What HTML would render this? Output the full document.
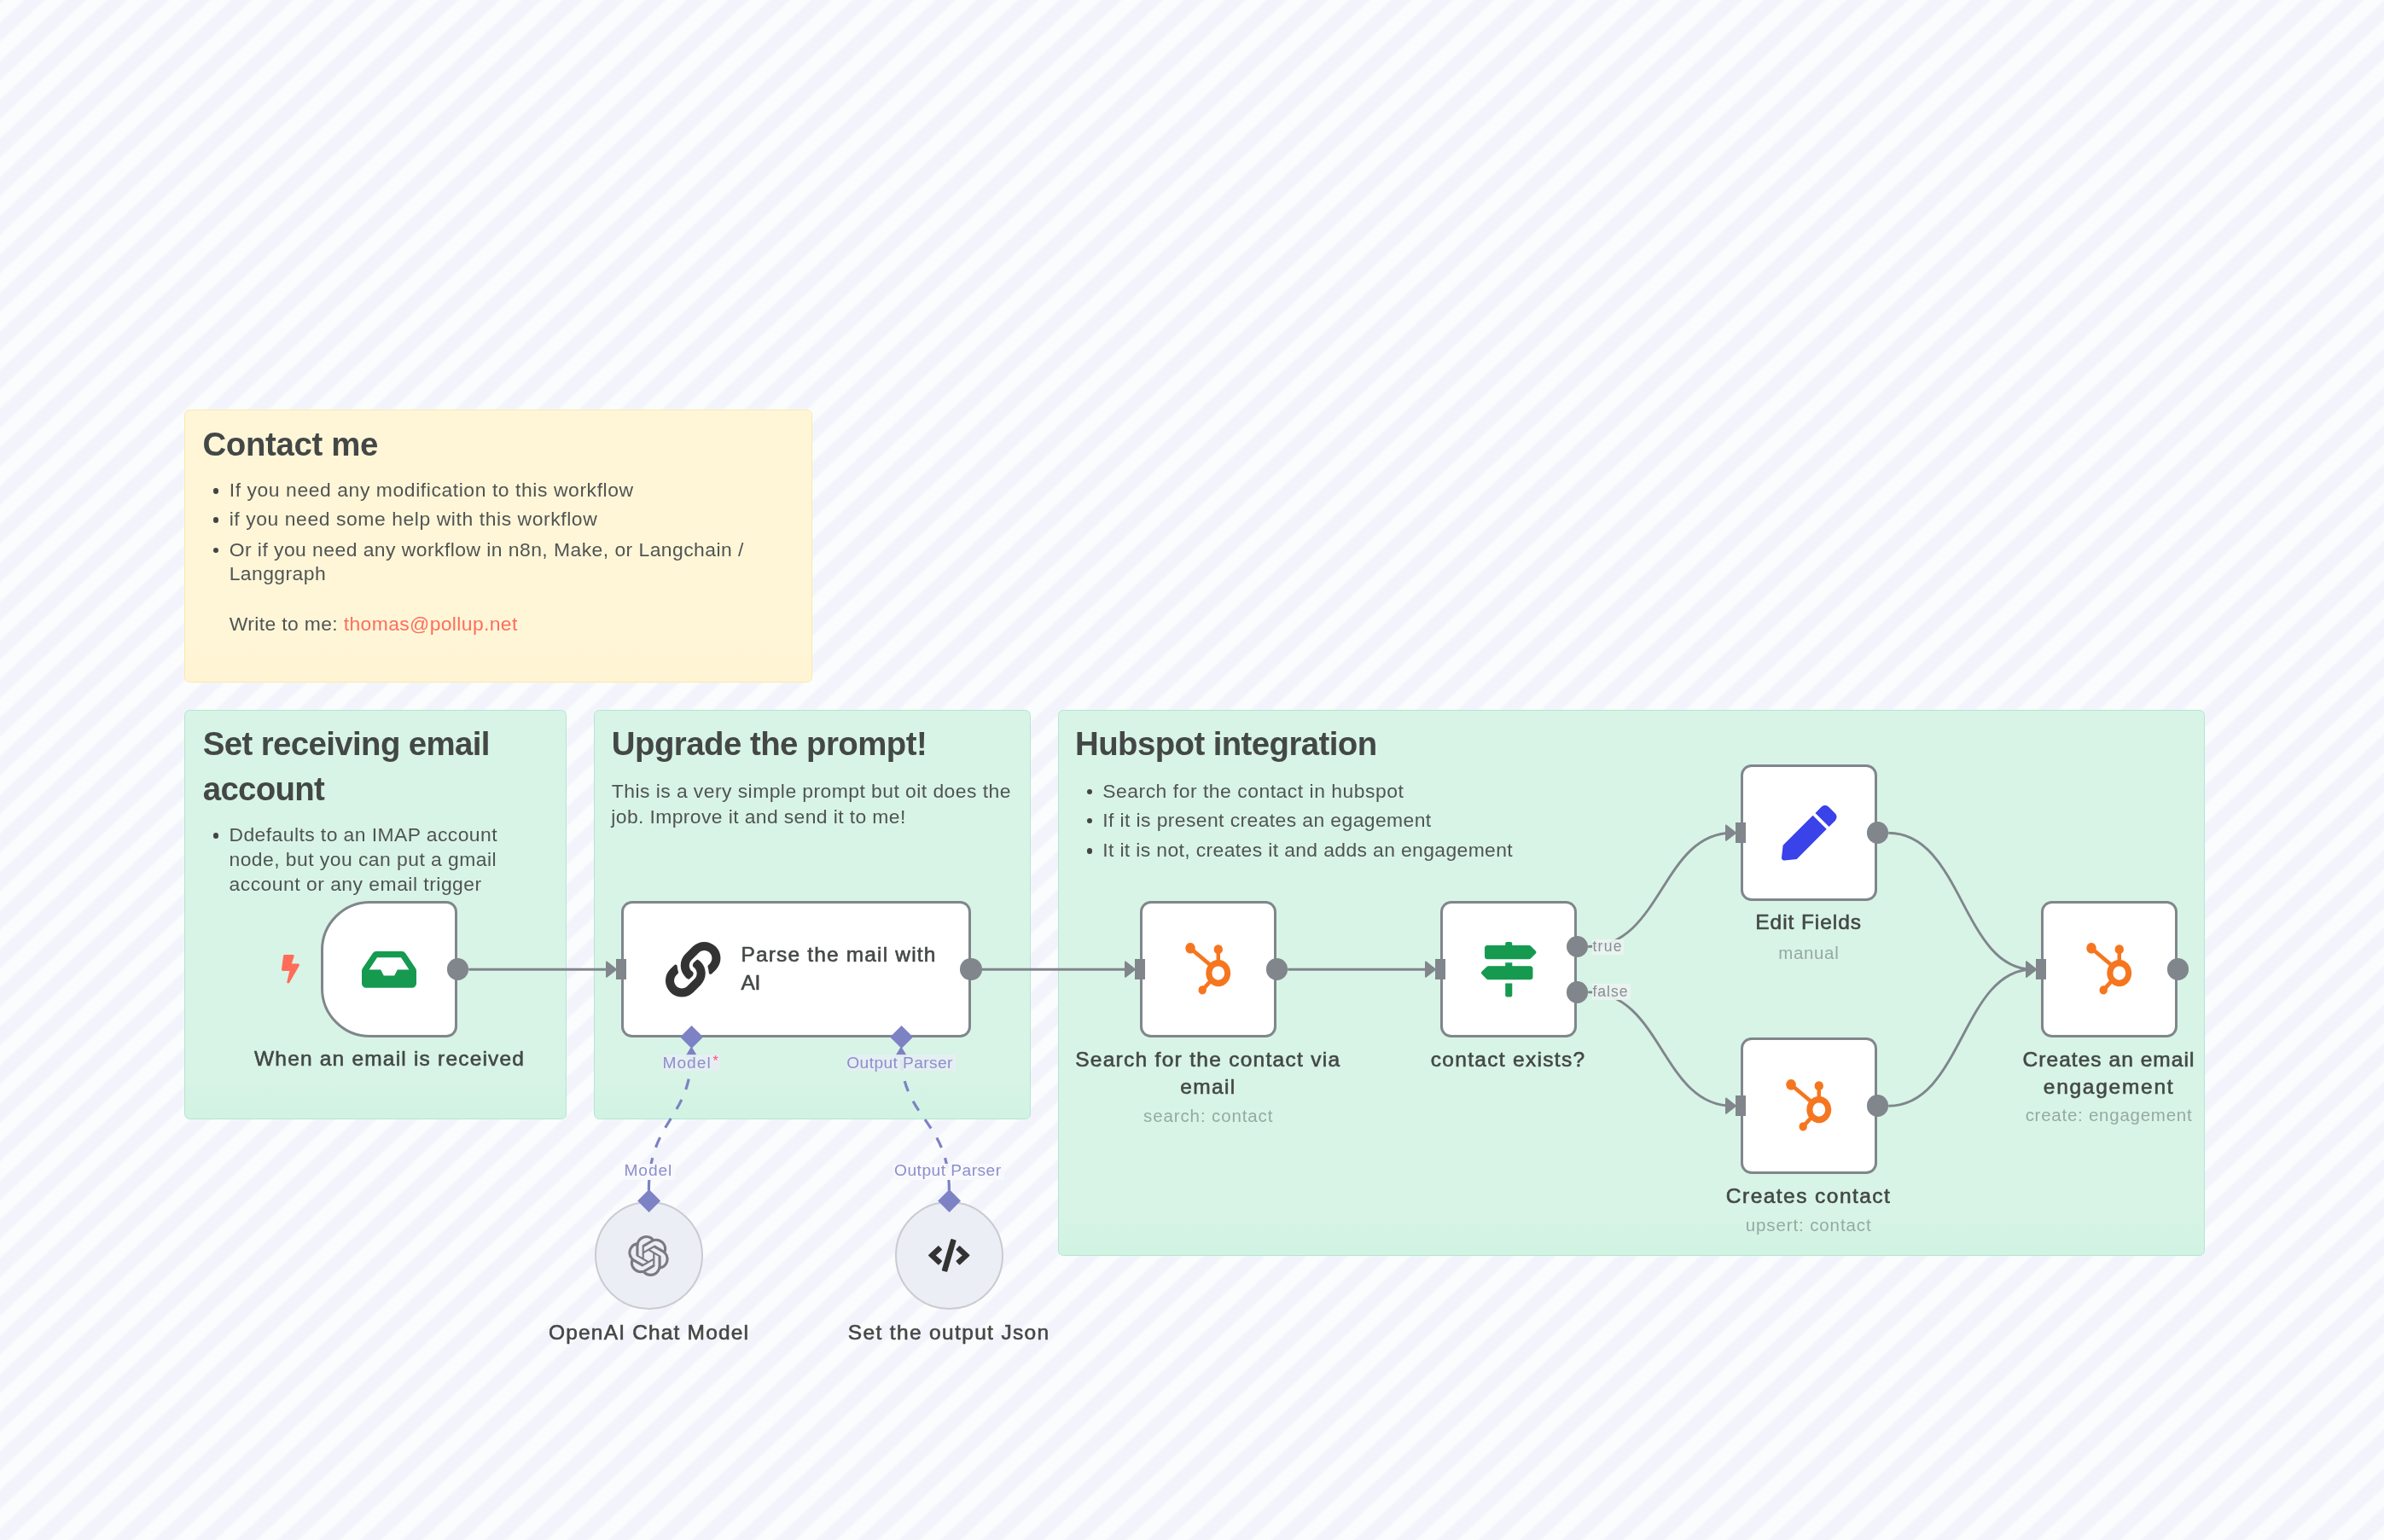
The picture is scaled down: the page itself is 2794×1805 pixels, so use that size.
<!DOCTYPE html>
<html><head><meta charset="utf-8"><title>workflow</title><style>
html,body{margin:0;padding:0}
body{width:2794px;height:1805px;overflow:hidden;position:relative;font-family:"Liberation Sans",sans-serif;background:#f8f9fd}
#c{position:absolute;left:0;top:0;width:2794px;height:1805px;overflow:hidden;filter:blur(.55px);
background-color:#fbfcfe;
background-image:repeating-linear-gradient(137deg,#f3f4fb .7px,#fbfcfe 4.7px,#fbfcfe 17.3px,#f3f4fb 21.3px,#f3f4fb 33.8px);}
.st{position:absolute;box-sizing:border-box;border:1.6px solid;border-radius:6.4px;z-index:1}
.st.y{background:linear-gradient(180deg,rgba(255,241,200,0) 0,rgba(255,241,200,0) calc(100% - 50px),rgba(255,242,204,.4) 100%),#fff6d8;border-color:#fae8b0}
.st.g{background:linear-gradient(180deg,rgba(200,242,222,0) 0,rgba(200,242,222,0) calc(100% - 50px),rgba(200,242,222,.45) 100%),#d8f4e6;border-color:#b4e6d0}
.edges{position:absolute;left:0;top:0;z-index:2}
.nd{position:absolute;box-sizing:border-box;background:#fff;border:3.2px solid #80868c;border-radius:12.8px;z-index:3}
.nd.trig{border-radius:57.6px 12.8px 12.8px 57.6px}
.hin{position:absolute;margin-top:.6px;margin-left:-.5px;width:12.8px;height:24.4px;background:#80868c;z-index:4}
.hout{position:absolute;width:25.6px;height:25.6px;border-radius:50%;background:#80868c;z-index:4}
.dm{position:absolute;width:19.2px;height:19.2px;background:#7d82c4;transform:rotate(45deg);z-index:6}
.cn{position:absolute;box-sizing:border-box;width:127px;height:127px;border-radius:50%;background:#eceef5;border:2px solid #c9cbd1;z-index:3}
.ic{position:absolute;z-index:5;overflow:visible}
.t{position:absolute;white-space:nowrap}
.bl{position:absolute;margin:.4px;width:6.4px;height:6.4px;border-radius:50%;background:#444;z-index:5}
.lb{position:absolute;background:rgba(233,243,241,.93);z-index:7}
.lb2{position:absolute;background:rgba(229,238,242,.93);z-index:7}
.lb3{position:absolute;background:rgba(248,249,253,.92);z-index:7}
.ast{position:absolute;width:7px;height:7px;border-radius:50%;background:#ff4d6a;z-index:8}
</style></head><body><div id="c">
<div class="st y" style="left:216.4px;top:480.2px;width:736.0px;height:320.0px"></div>
<div class="st g" style="left:216.4px;top:832.2px;width:448.0px;height:480.0px"></div>
<div class="st g" style="left:696.4px;top:832.2px;width:512.0px;height:480.0px"></div>
<div class="st g" style="left:1240.4px;top:832.2px;width:1344.0px;height:640.0px"></div>
<svg class="edges" width="2794" height="1805" viewBox="0 0 2794 1805"><path d="M549.2,1136.2 L718.0,1136.2" fill="none" stroke="#80868c" stroke-width="2.9"/>
<path d="M711.0,1127.6 L722.0,1136.2 L711.0,1144.8 Z" fill="#80868c" stroke="#80868c" stroke-width="2" stroke-linejoin="round"/>
<path d="M1150.8,1136.2 L1326.0,1136.2" fill="none" stroke="#80868c" stroke-width="2.9"/>
<path d="M1319.0,1127.6 L1330.0,1136.2 L1319.0,1144.8 Z" fill="#80868c" stroke="#80868c" stroke-width="2" stroke-linejoin="round"/>
<path d="M1509.2,1136.2 L1678.0,1136.2" fill="none" stroke="#80868c" stroke-width="2.9"/>
<path d="M1671.0,1127.6 L1682.0,1136.2 L1671.0,1144.8 Z" fill="#80868c" stroke="#80868c" stroke-width="2" stroke-linejoin="round"/>
<path d="M1861.2,1109.5 C1947.6,1109.5 1947.6,976.2 2030.0,976.2" fill="none" stroke="#80868c" stroke-width="2.9"/>
<path d="M2023.0,967.6 L2034.0,976.2 L2023.0,984.8 Z" fill="#80868c" stroke="#80868c" stroke-width="2" stroke-linejoin="round"/>
<path d="M1861.2,1162.9 C1947.6,1162.9 1947.6,1296.2 2030.0,1296.2" fill="none" stroke="#80868c" stroke-width="2.9"/>
<path d="M2023.0,1287.6 L2034.0,1296.2 L2023.0,1304.8 Z" fill="#80868c" stroke="#80868c" stroke-width="2" stroke-linejoin="round"/>
<path d="M2213.2,976.2 C2299.6,976.2 2299.6,1136.2 2382.0,1136.2" fill="none" stroke="#80868c" stroke-width="2.9"/>
<path d="M2375.0,1127.6 L2386.0,1136.2 L2375.0,1144.8 Z" fill="#80868c" stroke="#80868c" stroke-width="2" stroke-linejoin="round"/>
<path d="M2213.2,1296.2 C2299.6,1296.2 2299.6,1136.2 2382.0,1136.2" fill="none" stroke="#80868c" stroke-width="2.9"/>
<path d="M2375.0,1127.6 L2386.0,1136.2 L2375.0,1144.8 Z" fill="#80868c" stroke="#80868c" stroke-width="2" stroke-linejoin="round"/>
<path d="M760.4,1395.2 C760.4,1311.7 810.3,1311.7 810.3,1234.2" fill="none" stroke="#7d82c4" stroke-width="3.2" stroke-dasharray="12.8 12.8"/>
<path d="M804.8,1237.2 L810.3,1228.2 L815.8,1237.2 Z" fill="#7d82c4" stroke="#7d82c4" stroke-width="2" stroke-linejoin="round"/>
<path d="M1112.4,1395.2 C1112.4,1311.7 1056.1,1311.7 1056.1,1234.2" fill="none" stroke="#7d82c4" stroke-width="3.2" stroke-dasharray="12.8 12.8"/>
<path d="M1050.6,1237.2 L1056.1,1228.2 L1061.6,1237.2 Z" fill="#7d82c4" stroke="#7d82c4" stroke-width="2" stroke-linejoin="round"/></svg>
<div class="nd trig" style="left:376.4px;top:1056.2px;width:160.0px;height:160px"></div>
<div class="hout" style="left:523.6px;top:1123.4px"></div>
<svg class="ic" viewBox="0 0 576 512" style="left:424.4px;top:1107.8px;width:64.0px;height:56.9px" preserveAspectRatio="none"><path d="M567.938 243.908L462.25 85.374A48.003 48.003 0 0 0 422.311 64H153.689a48 48 0 0 0-39.938 21.374L8.062 243.908A47.994 47.994 0 0 0 0 270.533V400c0 26.51 21.49 48 48 48h480c26.51 0 48-21.49 48-48V270.533a47.994 47.994 0 0 0-8.062-26.625zM162.252 128h251.497l85.333 128H376l-32 64H232l-32-64H76.918l85.334-128z" fill="#159a50" opacity="1"/></svg>
<svg class="ic" viewBox="0 0 320 512" style="left:329.5px;top:1118.8px;width:21.0px;height:33.6px" preserveAspectRatio="none"><path d="M296 160H180.6l42.6-129.8C227.2 15 215.7 0 200 0H56C44 0 33.8 8.9 32.2 20.8l-32 240C-1.7 275.2 9.5 288 24 288h118.7L96.6 482.5c-3.6 15.2 8 29.500 23.3 29.500 8.4 0 16.4-4.4 20.8-12l176-304c9.3-15.9-2.2-36-20.700-36z" fill="#ff6d5a" opacity="1"/></svg>
<div class="nd " style="left:728.4px;top:1056.2px;width:409.6px;height:160px"></div>
<div class="hin" style="left:722.0px;top:1123.4px"></div>
<div class="hout" style="left:1125.2px;top:1123.4px"></div>
<svg class="ic" viewBox="0 0 512 512" style="left:779.5px;top:1104.0px;width:64.5px;height:64.5px" preserveAspectRatio="none"><path d="M326.612 185.391c59.747 59.809 58.927 155.698.36 214.59-.11.12-.24.25-.36.37l-67.2 67.2c-59.27 59.27-155.699 59.262-214.96 0-59.27-59.26-59.27-155.7 0-214.96l37.106-37.106c9.84-9.84 26.786-3.3 27.294 10.606.648 17.722 3.826 35.527 9.69 52.721 1.986 5.822.567 12.262-3.783 16.612l-13.087 13.087c-28.026 28.026-28.905 73.66-1.155 101.96 28.024 28.579 74.086 28.749 102.325.51l67.2-67.19c28.191-28.191 28.073-73.757 0-101.83-3.701-3.694-7.429-6.564-10.341-8.569a16.037 16.037 0 0 1-6.947-12.606c-.396-10.567 3.348-21.456 11.698-29.806l21.054-21.055c5.521-5.521 14.182-6.199 20.584-1.731a152.482 152.482 0 0 1 20.522 17.197zM467.547 44.449c-59.261-59.262-155.69-59.27-214.96 0l-67.2 67.2c-.12.12-.25.25-.36.37-58.566 58.892-59.387 154.781.36 214.59a152.454 152.454 0 0 0 20.521 17.196c6.402 4.468 15.064 3.789 20.584-1.731l21.054-21.055c8.35-8.35 12.094-19.239 11.698-29.806a16.037 16.037 0 0 0-6.947-12.606c-2.912-2.005-6.64-4.875-10.341-8.569-28.073-28.073-28.191-73.639 0-101.83l67.2-67.19c28.239-28.239 74.3-28.069 102.325.51 27.75 28.3 26.872 73.934-1.155 101.96l-13.087 13.087c-4.35 4.35-5.769 10.79-3.783 16.612 5.864 17.194 9.042 34.999 9.69 52.721.509 13.906 17.454 20.446 27.294 10.606l37.106-37.106c59.271-59.259 59.271-155.699.001-214.959z" fill="#333" opacity="1"/></svg>
<div class="dm" style="left:800.7px;top:1205.6px"></div>
<div class="dm" style="left:1046.5px;top:1205.6px"></div>
<div class="nd " style="left:1336.4px;top:1056.2px;width:160.0px;height:160px"></div>
<div class="hin" style="left:1330.0px;top:1123.4px"></div>
<div class="hout" style="left:1483.6px;top:1123.4px"></div>
<svg class="ic" viewBox="0 0 24 24" style="left:1388.0px;top:1104.5px;width:55.5px;height:60.5px" preserveAspectRatio="none"><path d="M18.164 7.93V5.084a2.198 2.198 0 001.267-1.978v-.067A2.2 2.2 0 0017.238.845h-.067a2.2 2.2 0 00-2.193 2.193v.067a2.196 2.196 0 001.252 1.973l.013.006v2.852a6.22 6.22 0 00-2.969 1.31l.012-.01-7.828-6.095A2.497 2.497 0 104.3 4.656l-.012.006 7.697 5.991a6.176 6.176 0 00-1.038 3.446c0 1.343.425 2.588 1.147 3.607l-.013-.02-2.342 2.343a1.968 1.968 0 00-.58-.095h-.002a2.033 2.033 0 102.033 2.033 1.978 1.978 0 00-.1-.595l.005.014 2.317-2.317a6.247 6.247 0 104.782-11.134l-.036-.005zm-.964 9.378a3.206 3.206 0 113.215-3.207v.002a3.206 3.206 0 01-3.207 3.207z" fill="#f5761f" opacity="1"/></svg>
<div class="nd " style="left:1688.4px;top:1056.2px;width:160.0px;height:160px"></div>
<div class="hin" style="left:1682.0px;top:1123.4px"></div>
<div class="hout" style="left:1835.6px;top:1096.7px"></div>
<div class="hout" style="left:1835.6px;top:1150.1px"></div>
<svg class="ic" viewBox="0 0 512 512" style="left:1736.2px;top:1104.0px;width:64.5px;height:64.5px" preserveAspectRatio="none"><path d="M507.31 84.690L464 41.370c-6-6-14.140-9.370-22.630-9.370H288V16c0-8.840-7.160-16-16-16h-32c-8.840 0-16 7.160-16 16v16H56c-13.250 0-24 10.750-24 24v80c0 13.250 10.750 24 24 24h385.370c8.490 0 16.620-3.370 22.630-9.370l43.310-43.310c6.250-6.260 6.250-16.380 0-22.630zM224 496c0 8.840 7.160 16 16 16h32c8.840 0 16-7.160 16-16V384h-64v112zm232-272H288v-32h-64v32H70.630c-8.490 0-16.620 3.370-22.630 9.370L4.690 276.690c-6.250 6.250-6.250 16.380 0 22.630L48 342.630c6 6 14.140 9.370 22.630 9.370H456c13.250 0 24-10.750 24-24v-80c0-13.250-10.750-24-24-24z" fill="#159a50" opacity="1"/></svg>
<div class="nd " style="left:2040.4px;top:896.2px;width:160.0px;height:160px"></div>
<div class="hin" style="left:2034.0px;top:963.4px"></div>
<div class="hout" style="left:2187.6px;top:963.4px"></div>
<svg class="ic" viewBox="0 0 512 512" style="left:2088.2px;top:944.0px;width:64.5px;height:64.5px" preserveAspectRatio="none"><path d="M290.74 93.24l128.02 128.02-277.99 277.99-114.14 12.6C11.35 513.54-1.56 500.62.14 485.34l12.7-114.22 277.9-277.88zm207.2-19.06l-60.11-60.11c-18.75-18.75-49.16-18.75-67.91 0l-56.55 56.55 128.02 128.02 56.55-56.55c18.75-18.76 18.75-49.16 0-67.91z" fill="#3a42e9" opacity="1"/></svg>
<div class="nd " style="left:2040.4px;top:1216.2px;width:160.0px;height:160px"></div>
<div class="hin" style="left:2034.0px;top:1283.4px"></div>
<div class="hout" style="left:2187.6px;top:1283.4px"></div>
<svg class="ic" viewBox="0 0 24 24" style="left:2092.0px;top:1264.5px;width:55.5px;height:60.5px" preserveAspectRatio="none"><path d="M18.164 7.93V5.084a2.198 2.198 0 001.267-1.978v-.067A2.2 2.2 0 0017.238.845h-.067a2.2 2.2 0 00-2.193 2.193v.067a2.196 2.196 0 001.252 1.973l.013.006v2.852a6.22 6.22 0 00-2.969 1.31l.012-.01-7.828-6.095A2.497 2.497 0 104.3 4.656l-.012.006 7.697 5.991a6.176 6.176 0 00-1.038 3.446c0 1.343.425 2.588 1.147 3.607l-.013-.02-2.342 2.343a1.968 1.968 0 00-.58-.095h-.002a2.033 2.033 0 102.033 2.033 1.978 1.978 0 00-.1-.595l.005.014 2.317-2.317a6.247 6.247 0 104.782-11.134l-.036-.005zm-.964 9.378a3.206 3.206 0 113.215-3.207v.002a3.206 3.206 0 01-3.207 3.207z" fill="#f5761f" opacity="1"/></svg>
<div class="nd " style="left:2392.4px;top:1056.2px;width:160.0px;height:160px"></div>
<div class="hin" style="left:2386.0px;top:1123.4px"></div>
<div class="hout" style="left:2539.6px;top:1123.4px"></div>
<svg class="ic" viewBox="0 0 24 24" style="left:2444.0px;top:1104.5px;width:55.5px;height:60.5px" preserveAspectRatio="none"><path d="M18.164 7.93V5.084a2.198 2.198 0 001.267-1.978v-.067A2.2 2.2 0 0017.238.845h-.067a2.2 2.2 0 00-2.193 2.193v.067a2.196 2.196 0 001.252 1.973l.013.006v2.852a6.22 6.22 0 00-2.969 1.31l.012-.01-7.828-6.095A2.497 2.497 0 104.3 4.656l-.012.006 7.697 5.991a6.176 6.176 0 00-1.038 3.446c0 1.343.425 2.588 1.147 3.607l-.013-.02-2.342 2.343a1.968 1.968 0 00-.58-.095h-.002a2.033 2.033 0 102.033 2.033 1.978 1.978 0 00-.1-.595l.005.014 2.317-2.317a6.247 6.247 0 104.782-11.134l-.036-.005zm-.964 9.378a3.206 3.206 0 113.215-3.207v.002a3.206 3.206 0 01-3.207 3.207z" fill="#f5761f" opacity="1"/></svg>
<div class="cn" style="left:696.9px;top:1407.7px"></div>
<svg class="ic" viewBox="0 0 24 24" style="left:736.4px;top:1447.7px;width:48.0px;height:48.0px" preserveAspectRatio="none"><path d="M22.2819 9.8211a5.9847 5.9847 0 0 0-.5157-4.9108 6.0462 6.0462 0 0 0-6.5098-2.9A6.0651 6.0651 0 0 0 4.9807 4.1818a5.9847 5.9847 0 0 0-3.9977 2.9 6.0462 6.0462 0 0 0 .7427 7.0966 5.98 5.98 0 0 0 .511 4.9107 6.051 6.051 0 0 0 6.5146 2.9001A5.9847 5.9847 0 0 0 13.2599 24a6.0557 6.0557 0 0 0 5.7718-4.2058 5.9894 5.9894 0 0 0 3.9977-2.9001 6.0557 6.0557 0 0 0-.7475-7.0729zm-9.022 12.6081a4.4755 4.4755 0 0 1-2.8764-1.0408l.1419-.0804 4.7783-2.7582a.7948.7948 0 0 0 .3927-.6813v-6.7369l2.02 1.1686a.071.071 0 0 1 .038.052v5.5826a4.504 4.504 0 0 1-4.4945 4.4944zm-9.6607-4.1254a4.4708 4.4708 0 0 1-.5346-3.0137l.142.0852 4.783 2.7582a.7712.7712 0 0 0 .7806 0l5.8428-3.3685v2.3324a.0804.0804 0 0 1-.0332.0615L9.74 19.9502a4.4992 4.4992 0 0 1-6.1408-1.6464zM2.3408 7.8956a4.485 4.485 0 0 1 2.3655-1.9728V11.6a.7664.7664 0 0 0 .3879.6765l5.8144 3.3543-2.0201 1.1685a.0757.0757 0 0 1-.071 0l-4.8303-2.7865A4.504 4.504 0 0 1 2.3408 7.872zm16.5963 3.8558L13.1038 8.364 15.1192 7.2a.0757.0757 0 0 1 .071 0l4.8303 2.7913a4.4944 4.4944 0 0 1-.6765 8.1042v-5.6772a.79.79 0 0 0-.407-.667zm2.0107-3.0231l-.142-.0852-4.7735-2.7818a.7759.7759 0 0 0-.7854 0L9.409 9.2297V6.8974a.0662.0662 0 0 1 .0284-.0615l4.8303-2.7866a4.4992 4.4992 0 0 1 6.6802 4.66zM8.3065 12.863l-2.02-1.1638a.0804.0804 0 0 1-.038-.0567V6.0742a4.4992 4.4992 0 0 1 7.3757-3.4537l-.142.0805L8.704 5.459a.7948.7948 0 0 0-.3927.6813zm1.0976-2.3654l2.602-1.4998 2.6069 1.4998v2.9994l-2.5974 1.4997-2.6067-1.4997Z" fill="#7a7b80" opacity="1"/></svg>
<div class="dm" style="left:750.8px;top:1398.1px"></div>
<div class="cn" style="left:1048.9px;top:1407.7px"></div>
<svg class="ic" viewBox="0 0 640 512" style="left:1088.2px;top:1452.3px;width:48.5px;height:38.8px" preserveAspectRatio="none"><path d="M278.9 511.500l-61-17.700c-6.400-1.800-10-8.500-8.200-14.900L346.200 8.700c1.800-6.400 8.500-10 14.900-8.200l61 17.700c6.400 1.800 10 8.500 8.200 14.900L293.800 503.300c-1.900 6.400-8.500 10.100-14.900 8.200zm-114-112.200l43.500-46.400c4.600-4.900 4.300-12.700-.8-17.200L117 256l90.600-79.700c5.100-4.500 5.500-12.300.8-17.200l-43.500-46.400c-4.500-4.800-12.100-5.100-17-.5L3.800 247.200c-5.100 4.700-5.100 12.800 0 17.500l144.100 135.100c4.900 4.600 12.500 4.400 17-.5zm327.200.6l144.100-135.100c5.100-4.700 5.100-12.800 0-17.500L492.100 112.100c-4.800-4.500-12.400-4.300-17 .5L431.600 159c-4.600 4.900-4.300 12.700.8 17.200L523 256l-90.600 79.700c-5.100 4.500-5.500 12.300-.8 17.200l43.500 46.400c4.500 4.900 12.100 5.100 17 .6z" fill="#333" opacity="1"/></svg>
<div class="dm" style="left:1102.8px;top:1398.1px"></div>
<div class="lb" style="left:1866.0px;top:1100.5px;width:37.0px;height:18.5px"></div>
<div class="lb" style="left:1866.0px;top:1153.0px;width:44.5px;height:18.5px"></div>
<div class="lb2" style="left:776.5px;top:1236px;width:67px;height:19px"></div>
<div class="lb2" style="left:992.5px;top:1236px;width:127px;height:19px"></div>
<div class="bl" style="left:249.3px;top:572.0px"></div>
<div class="bl" style="left:249.3px;top:606.0px"></div>
<div class="bl" style="left:249.3px;top:641.7px"></div>
<div class="bl" style="left:249.3px;top:975.9px"></div>
<div class="bl" style="left:1273.4px;top:924.4px"></div>
<div class="bl" style="left:1273.4px;top:958.5px"></div>
<div class="bl" style="left:1273.4px;top:994.0px"></div>
<span class="t" style="left:835.5px;top:1235.5px;font-size:16px;line-height:16px;color:#ff4d6a;z-index:8">*</span>
<div class="lb3" style="left:731px;top:1363.5px;width:60px;height:19.5px"></div>
<div class="lb3" style="left:1047px;top:1363.5px;width:130px;height:19.5px"></div>
<span class="t" id="t0" style="top:498.05px;font-size:38.4px;line-height:46.08px;color:#434846;letter-spacing:-0.340px;z-index:5;font-weight:700;left:237.40px;">Contact me</span>
<span class="t" id="t1" style="top:561.43px;font-size:22.9px;line-height:27.48px;color:#505452;letter-spacing:0.580px;z-index:5;left:268.70px;">If you need any modification to this workflow</span>
<span class="t" id="t2" style="top:595.43px;font-size:22.9px;line-height:27.48px;color:#505452;letter-spacing:0.579px;z-index:5;left:268.70px;">if you need some help with this workflow</span>
<span class="t" id="t3" style="top:631.13px;font-size:22.9px;line-height:27.48px;color:#505452;letter-spacing:0.455px;z-index:5;left:268.70px;">Or if you need any workflow in n8n, Make, or Langchain /</span>
<span class="t" id="t4" style="top:659.43px;font-size:22.9px;line-height:27.48px;color:#505452;letter-spacing:0.440px;z-index:5;left:268.70px;">Langgraph</span>
<span class="t" id="t5" style="top:717.73px;font-size:22.9px;line-height:27.48px;color:#505452;letter-spacing:0.368px;z-index:5;left:268.70px;">Write to me: <span style="color:#ff6d5a">thomas@pollup.net</span></span>
<span class="t" id="t6" style="top:849.05px;font-size:38.4px;line-height:46.08px;color:#434846;letter-spacing:-0.619px;z-index:5;font-weight:700;left:237.80px;">Set receiving email</span>
<span class="t" id="t7" style="top:901.95px;font-size:38.4px;line-height:46.08px;color:#434846;letter-spacing:-0.701px;z-index:5;font-weight:700;left:237.80px;">account</span>
<span class="t" id="t8" style="top:965.23px;font-size:22.9px;line-height:27.48px;color:#505452;letter-spacing:0.429px;z-index:5;left:268.50px;">Ddefaults to an IMAP account</span>
<span class="t" id="t9" style="top:994.33px;font-size:22.9px;line-height:27.48px;color:#505452;letter-spacing:0.453px;z-index:5;left:268.50px;">node, but you can put a gmail</span>
<span class="t" id="t10" style="top:1023.13px;font-size:22.9px;line-height:27.48px;color:#505452;letter-spacing:0.490px;z-index:5;left:268.50px;">account or any email trigger</span>
<span class="t" id="t11" style="top:849.05px;font-size:38.4px;line-height:46.08px;color:#434846;letter-spacing:-0.535px;z-index:5;font-weight:700;left:716.80px;">Upgrade the prompt!</span>
<span class="t" id="t12" style="top:913.93px;font-size:22.9px;line-height:27.48px;color:#505452;letter-spacing:0.449px;z-index:5;left:716.80px;">This is a very simple prompt but oit does the</span>
<span class="t" id="t13" style="top:943.63px;font-size:22.9px;line-height:27.48px;color:#505452;letter-spacing:0.391px;z-index:5;left:716.30px;">job. Improve it and send it to me!</span>
<span class="t" id="t14" style="top:849.05px;font-size:38.4px;line-height:46.08px;color:#434846;letter-spacing:-0.593px;z-index:5;font-weight:700;left:1260.10px;">Hubspot integration</span>
<span class="t" id="t15" style="top:913.83px;font-size:22.9px;line-height:27.48px;color:#505452;letter-spacing:0.524px;z-index:5;left:1292.20px;">Search for the contact in hubspot</span>
<span class="t" id="t16" style="top:947.93px;font-size:22.9px;line-height:27.48px;color:#505452;letter-spacing:0.409px;z-index:5;left:1292.20px;">If it is present creates an egagement</span>
<span class="t" id="t17" style="top:983.43px;font-size:22.9px;line-height:27.48px;color:#505452;letter-spacing:0.376px;z-index:5;left:1292.20px;">It it is not, creates it and adds an engagement</span>
<span class="t" id="t18" style="top:1226.41px;font-size:24.5px;line-height:29.4px;color:#434846;letter-spacing:1.195px;z-index:5;-webkit-text-stroke:0.6px #434846;left:456.60px;transform:translateX(-50%);">When an email is received</span>
<span class="t" id="t19" style="top:1104.41px;font-size:24.5px;line-height:29.4px;color:#434846;letter-spacing:1.168px;z-index:7;-webkit-text-stroke:0.6px #434846;left:868.40px;">Parse the mail with</span>
<span class="t" id="t20" style="top:1136.61px;font-size:24.5px;line-height:29.4px;color:#434846;letter-spacing:-0.156px;z-index:7;-webkit-text-stroke:0.6px #434846;left:868.40px;">AI</span>
<span class="t" id="t21" style="top:1226.61px;font-size:24.5px;line-height:29.4px;color:#434846;letter-spacing:1.287px;z-index:5;-webkit-text-stroke:0.6px #434846;left:1415.80px;transform:translateX(-50%);">Search for the contact via</span>
<span class="t" id="t22" style="top:1258.51px;font-size:24.5px;line-height:29.4px;color:#434846;letter-spacing:1.360px;z-index:5;-webkit-text-stroke:0.6px #434846;left:1416.00px;transform:translateX(-50%);">email</span>
<span class="t" id="t23" style="top:1295.50px;font-size:20.5px;line-height:24.6px;color:#95a9a3;letter-spacing:0.884px;z-index:5;left:1416.20px;transform:translateX(-50%);">search: contact</span>
<span class="t" id="t24" style="top:1226.61px;font-size:24.5px;line-height:29.4px;color:#434846;letter-spacing:1.317px;z-index:5;-webkit-text-stroke:0.6px #434846;left:1767.60px;transform:translateX(-50%);">contact exists?</span>
<span class="t" id="t25" style="top:1066.31px;font-size:24.5px;line-height:29.4px;color:#434846;letter-spacing:0.922px;z-index:5;-webkit-text-stroke:0.6px #434846;left:2119.60px;transform:translateX(-50%);">Edit Fields</span>
<span class="t" id="t26" style="top:1105.00px;font-size:20.5px;line-height:24.6px;color:#95a9a3;letter-spacing:0.670px;z-index:5;left:2119.80px;transform:translateX(-50%);">manual</span>
<span class="t" id="t27" style="top:1387.01px;font-size:24.5px;line-height:29.4px;color:#434846;letter-spacing:1.457px;z-index:5;-webkit-text-stroke:0.6px #434846;left:2119.60px;transform:translateX(-50%);">Creates contact</span>
<span class="t" id="t28" style="top:1424.10px;font-size:20.5px;line-height:24.6px;color:#95a9a3;letter-spacing:0.895px;z-index:5;left:2119.60px;transform:translateX(-50%);">upsert: contact</span>
<span class="t" id="t29" style="top:1227.01px;font-size:24.5px;line-height:29.4px;color:#434846;letter-spacing:1.047px;z-index:5;-webkit-text-stroke:0.6px #434846;left:2471.50px;transform:translateX(-50%);">Creates an email</span>
<span class="t" id="t30" style="top:1258.51px;font-size:24.5px;line-height:29.4px;color:#434846;letter-spacing:1.741px;z-index:5;-webkit-text-stroke:0.6px #434846;left:2471.60px;transform:translateX(-50%);">engagement</span>
<span class="t" id="t31" style="top:1295.20px;font-size:20.5px;line-height:24.6px;color:#95a9a3;letter-spacing:0.744px;z-index:5;left:2471.50px;transform:translateX(-50%);">create: engagement</span>
<span class="t" id="t32" style="top:1546.71px;font-size:24.5px;line-height:29.4px;color:#434846;letter-spacing:1.176px;z-index:5;-webkit-text-stroke:0.6px #434846;left:760.60px;transform:translateX(-50%);">OpenAI Chat Model</span>
<span class="t" id="t33" style="top:1546.71px;font-size:24.5px;line-height:29.4px;color:#434846;letter-spacing:1.348px;z-index:5;-webkit-text-stroke:0.6px #434846;left:1112.20px;transform:translateX(-50%);">Set the output Json</span>
<span class="t" id="t34" style="top:1098.94px;font-size:17.6px;line-height:21.12px;color:#8b8e93;letter-spacing:1.224px;z-index:8;left:1866.50px;">true</span>
<span class="t" id="t35" style="top:1151.54px;font-size:17.6px;line-height:21.12px;color:#8b8e93;letter-spacing:0.955px;z-index:8;left:1866.50px;">false</span>
<span class="t" id="t36" style="top:1234.03px;font-size:19.2px;line-height:23.04px;color:#8b8fcb;letter-spacing:1.010px;z-index:8;left:776.40px;">Model</span>
<span class="t" id="t37" style="top:1234.03px;font-size:19.2px;line-height:23.04px;color:#8b8fcb;letter-spacing:0.396px;z-index:8;left:992.30px;">Output Parser</span>
<span class="t" id="t38" style="top:1359.53px;font-size:19.2px;line-height:23.04px;color:#8b8fcb;letter-spacing:0.885px;z-index:8;left:731.50px;">Model</span>
<span class="t" id="t39" style="top:1359.53px;font-size:19.2px;line-height:23.04px;color:#8b8fcb;letter-spacing:0.463px;z-index:8;left:1048.10px;">Output Parser</span>
</div></body></html>
